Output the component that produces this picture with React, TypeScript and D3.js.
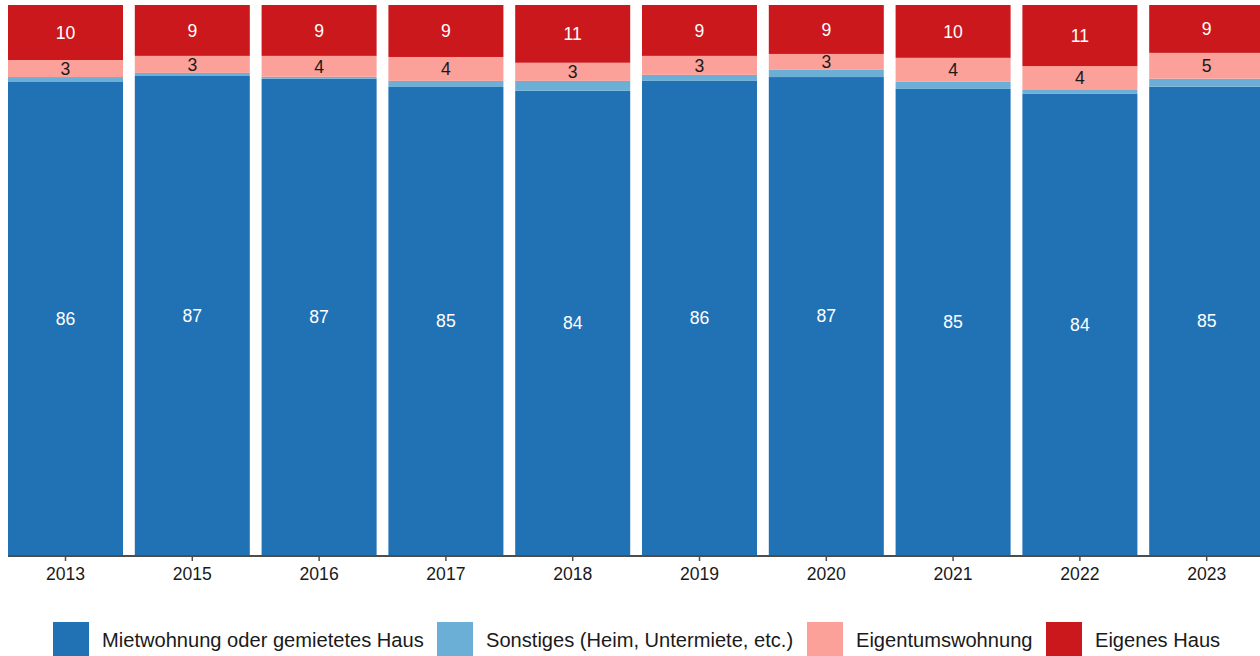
import React from "react";
import * as d3 from "d3";

const years = ["2013", "2015", "2016", "2017", "2018", "2019", "2020", "2021", "2022", "2023"];
const miete = [86.0, 87.1, 86.6, 85.1, 84.4, 86.2, 86.9, 84.7, 83.8, 85.1];
const sonstiges = [0.9, 0.55, 0.36, 1.1, 1.8, 1.1, 1.3, 1.3, 0.7, 1.45];
const eigentumswohnung = [3.1, 3.1, 3.8, 4.35, 3.3, 3.45, 2.9, 4.35, 4.35, 4.7];
const eigenesHaus = [10.0, 9.25, 9.25, 9.45, 10.5, 9.25, 8.9, 9.6, 11.1, 8.7];

const seriesNames = [
  "Mietwohnung oder gemietetes Haus",
  "Sonstiges (Heim, Untermiete, etc.)",
  "Eigentumswohnung",
  "Eigenes Haus",
];
const seriesColors = ["#2171b5", "#6baed6", "#fca09a", "#cb181d"];
const labelColors = ["#ffffff", "#ffffff", "#1a1a1a", "#ffffff"];
const showLabel = [true, false, true, true];
const legendX = [53, 437, 807, 1046];

const W = 1260;
const H = 656;
const top = 5;
const bottom = 555;
const font = "'Liberation Sans', Arial, Helvetica, sans-serif";

export default function App() {
  const seriesData = [miete, sonstiges, eigentumswohnung, eigenesHaus];
  const x = d3.scaleBand<string>().domain(years).range([8, 1264.2]).paddingInner(0.093).paddingOuter(0);
  const y = d3.scaleLinear().domain([0, 100]).range([bottom, top]);

  const rows = years.map((yr, i) => {
    const row: any = { year: yr };
    seriesNames.forEach((s, k) => (row[s] = seriesData[k][i]));
    return row;
  });
  const stacked = d3.stack<any>().keys(seriesNames)(rows);
  const totals = rows.map((r) => seriesNames.reduce((a, s) => a + r[s], 0));

  return (
    <svg width={W} height={H} style={{ position: "absolute", left: 0, top: 0, display: "block" }} fontFamily={font}>
      <rect x={0} y={0} width={W} height={H} fill="#ffffff" />
      {stacked.map((layer, k) => (
        <g key={k}>
          {layer.map((d, i) => {
            const t = totals[i] / 100;
            const y0 = y(d[0] / t);
            const y1 = y(d[1] / t);
            return (
              <g key={i}>
                <rect x={x(years[i])!} y={y1} width={x.bandwidth()} height={y0 - y1} fill={seriesColors[k]} />
                {showLabel[k] && (
                  <text
                    x={x(years[i])! + x.bandwidth() / 2}
                    y={(y0 + y1) / 2}
                    dy="0.36em"
                    textAnchor="middle"
                    fontSize={17.6}
                    fill={labelColors[k]}
                  >
                    {Math.round(seriesData[k][i])}
                  </text>
                )}
              </g>
            );
          })}
        </g>
      ))}
      <line x1={8} x2={W} y1={556} y2={556} stroke="#4d4d4d" strokeWidth={2} />
      {years.map((yr) => {
        const cx = x(yr)! + x.bandwidth() / 2;
        return (
          <g key={yr}>
            <line x1={cx} x2={cx} y1={556} y2={561} stroke="#4d4d4d" strokeWidth={1.5} />
            <text x={cx} y={580} textAnchor="middle" fontSize={17.6} fill="#1a1a1a">
              {yr}
            </text>
          </g>
        );
      })}
      {seriesNames.map((s, k) => (
        <g key={s}>
          <rect x={legendX[k]} y={622} width={36} height={36} fill={seriesColors[k]} />
          <text x={legendX[k] + 49} y={647} fontSize={20.1} fill="#1a1a1a">
            {s}
          </text>
        </g>
      ))}
    </svg>
  );
}
